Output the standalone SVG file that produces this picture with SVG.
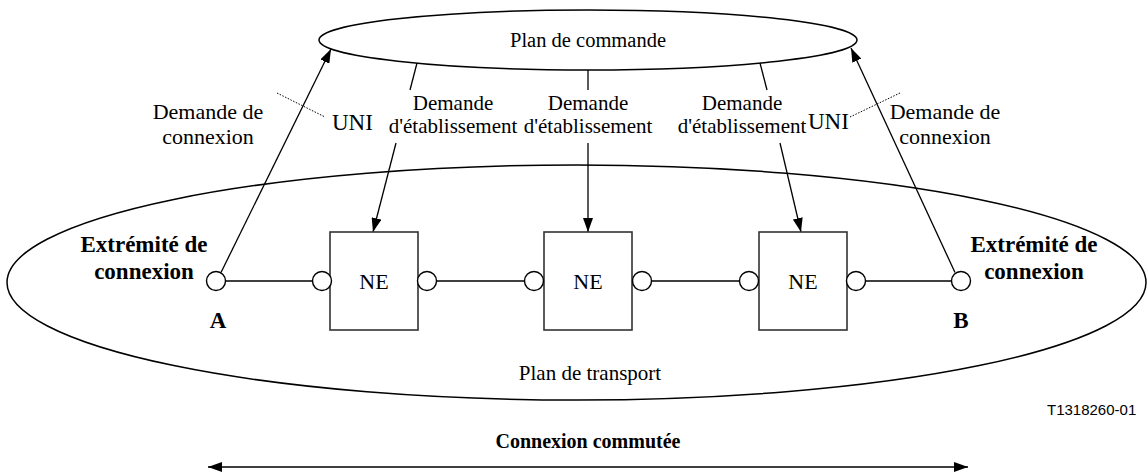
<svg xmlns="http://www.w3.org/2000/svg" width="1148" height="476" viewBox="0 0 1148 476">
<style>
text{font-family:"Liberation Serif","Times New Roman",serif;fill:#000}
.c{text-anchor:middle}
.b{font-weight:bold}
.ln{stroke:#000;stroke-width:1.3;fill:none}
.dot{stroke:#000;stroke-width:1;stroke-dasharray:1.5 1.5;fill:none}
.box{fill:#fff;stroke:#333;stroke-width:1.6}
.port{fill:#fff;stroke:#000;stroke-width:1.4}
.ell{fill:none;stroke:#000;stroke-width:1.5}
</style>
<defs>
<marker id="ah" markerWidth="14" markerHeight="10" refX="14" refY="5" orient="auto" markerUnits="userSpaceOnUse">
<path d="M0,0 L14,5 L0,10 Z" fill="#000"/>
</marker>
<marker id="ahs" markerWidth="14" markerHeight="10" refX="0" refY="5" orient="auto" markerUnits="userSpaceOnUse">
<path d="M14,0 L0,5 L14,10 Z" fill="#000"/>
</marker>
</defs>
<rect width="1148" height="476" fill="#fff"/>
<g id="transport-plane">
<ellipse class="ell" cx="576.5" cy="282.5" rx="569.5" ry="117.5"/>
<text class="c" x="590" y="380" font-size="21">Plan de transport</text>
</g>
<g id="control-plane">
<ellipse class="ell" cx="588" cy="40" rx="269" ry="30"/>
<text class="c" x="588" y="47" font-size="20.5">Plan de commande</text>
</g>
<g id="connectors">
<line class="ln" x1="225.5" y1="281" x2="312.5" y2="281"/>
<line class="ln" x1="436.5" y1="281" x2="524.5" y2="281"/>
<line class="ln" x1="651.5" y1="281" x2="739.5" y2="281"/>
<line class="ln" x1="865.5" y1="281" x2="951.5" y2="281"/>
<line class="ln" x1="221" y1="272.5" x2="331" y2="49" marker-end="url(#ah)"/>
<line class="ln" x1="955" y1="272.5" x2="851" y2="48" marker-end="url(#ah)"/>
<line class="ln" x1="417" y1="63" x2="410" y2="90"/>
<line class="ln" x1="396" y1="143" x2="373" y2="232" marker-end="url(#ah)"/>
<line class="ln" x1="588" y1="70" x2="588" y2="90"/>
<line class="ln" x1="588" y1="143" x2="588" y2="232" marker-end="url(#ah)"/>
<line class="ln" x1="760" y1="63" x2="767" y2="90"/>
<line class="ln" x1="780" y1="143" x2="801" y2="232" marker-end="url(#ah)"/>
<line class="dot" x1="277" y1="93" x2="325" y2="117"/>
<line class="dot" x1="850" y1="117" x2="900" y2="93"/>
<line class="ln" x1="208" y1="467" x2="968" y2="467" marker-start="url(#ahs)" marker-end="url(#ah)"/>
</g>
<g id="labels">
<text class="c" x="208" y="119" font-size="22">Demande de</text>
<text class="c" x="208" y="144" font-size="22">connexion</text>
<text x="332" y="130" font-size="23">UNI</text>
<text class="c" x="453" y="110" font-size="21">Demande</text>
<text class="c" x="453" y="133" font-size="21">d'établissement</text>
<text class="c" x="588" y="110" font-size="21">Demande</text>
<text class="c" x="588" y="133" font-size="21">d'établissement</text>
<text class="c" x="742" y="110" font-size="21">Demande</text>
<text class="c" x="742" y="133" font-size="21">d'établissement</text>
<text x="808" y="129" font-size="23">UNI</text>
<text class="c" x="945" y="119" font-size="22">Demande de</text>
<text class="c" x="945" y="144" font-size="22">connexion</text>
<text x="1047" y="415" font-size="15" style="font-family:'Liberation Sans',Arial,sans-serif">T1318260-01</text>
<text class="c b" x="588" y="448" font-size="20">Connexion commutée</text>
</g>
<g id="endpoint-A">
<circle class="port" cx="216" cy="281" r="9.5"/>
<text class="c b" x="144" y="252" font-size="23">Extrémité de</text>
<text class="c b" x="144" y="279" font-size="23">connexion</text>
<text class="c b" x="218" y="328" font-size="23">A</text>
</g>
<g id="ne-1">
<rect class="box" x="330" y="232" width="88" height="98"/>
<circle class="port" cx="322" cy="281" r="9.5"/>
<circle class="port" cx="427" cy="281" r="9.5"/>
<text class="c" x="374" y="289" font-size="22">NE</text>
</g>
<g id="ne-2">
<rect class="box" x="544" y="232" width="88" height="98"/>
<circle class="port" cx="534" cy="281" r="9.5"/>
<circle class="port" cx="642" cy="281" r="9.5"/>
<text class="c" x="588" y="289" font-size="22">NE</text>
</g>
<g id="ne-3">
<rect class="box" x="759" y="232" width="88" height="98"/>
<circle class="port" cx="749" cy="281" r="9.5"/>
<circle class="port" cx="856" cy="281" r="9.5"/>
<text class="c" x="803" y="289" font-size="22">NE</text>
</g>
<g id="endpoint-B">
<circle class="port" cx="961" cy="281" r="9.5"/>
<text class="c b" x="1034" y="252" font-size="23">Extrémité de</text>
<text class="c b" x="1034" y="279" font-size="23">connexion</text>
<text class="c b" x="961" y="328" font-size="23">B</text>
</g>
</svg>
